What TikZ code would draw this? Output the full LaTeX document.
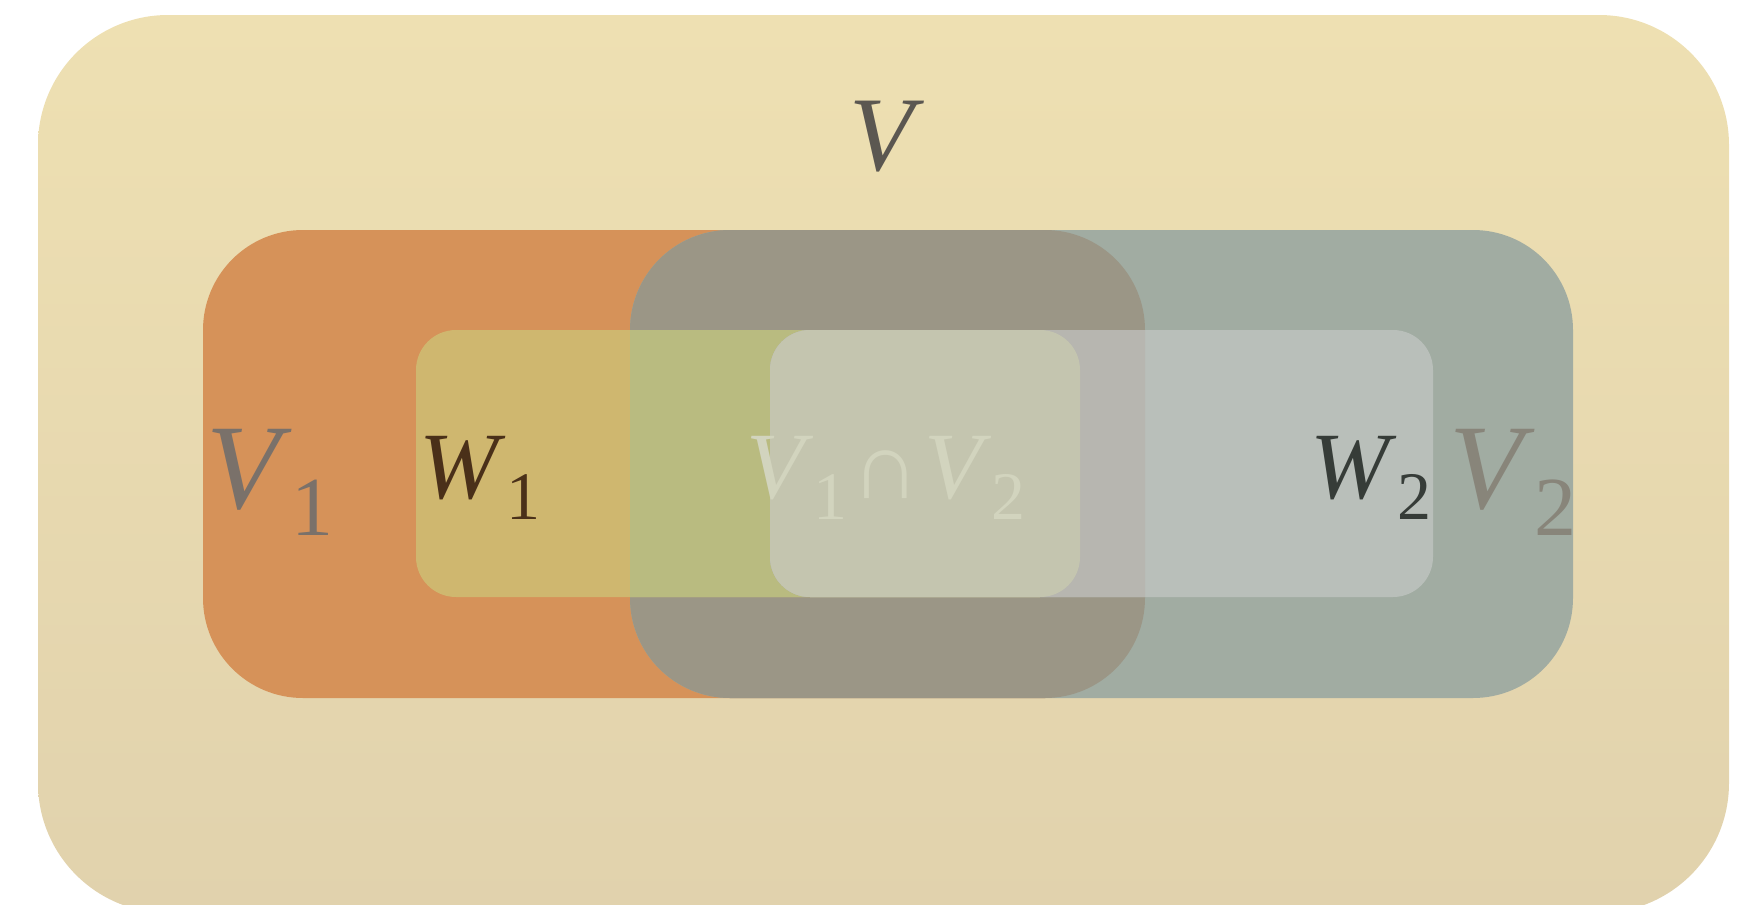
\documentclass[tikz,border=0pt]{standalone}
\usepackage{fontspec}
\setmainfont{Liberation Serif}

\definecolor{spacetop}{HTML}{EEE0B2}
\definecolor{spacebot}{HTML}{E1D2AD}
\definecolor{vone}{HTML}{D69259}
\definecolor{vtwo}{HTML}{A1ACA2}
\definecolor{vboth}{HTML}{9B9686}
\definecolor{wone}{HTML}{CFB76F}
\definecolor{wonevtwo}{HTML}{B9BB80}
\definecolor{wtwo}{HTML}{B9BFBA}
\definecolor{wtwovone}{HTML}{B7B6B0}
\definecolor{wboth}{HTML}{C4C5AF}

\newcommand{\sublbl}[4]{{\fontsize{#3}{#3}\selectfont\textit{#1}\raisebox{-0.23em}{\fontsize{#4}{#4}\selectfont #2}}}

\begin{document}
\begin{tikzpicture}[x=0.5pt,y=-0.5pt]
                        \useasboundingbox (0,0) rectangle (1742,905);
                        \shade[top color=spacetop,bottom color=spacebot,rounded corners=65pt] (38,15) rectangle (1729,913);

                        \fill[vone,rounded corners=50pt] (203,230) rectangle (1145,698);
                        \fill[vtwo,rounded corners=50pt] (630,230) rectangle (1573,698);
                        \begin{scope}
                            \clip[rounded corners=50pt] (203,230) rectangle (1145,698);
                            \fill[vboth,rounded corners=50pt] (630,230) rectangle (1573,698);
                        \end{scope}

                        \fill[wone,rounded corners=20pt] (416,330) rectangle (1080,597);
                        \begin{scope}
                            \clip[rounded corners=20pt] (416,330) rectangle (1080,597);
                            \fill[wonevtwo,rounded corners=50pt] (630,230) rectangle (1573,698);
                        \end{scope}
                        \fill[wtwo,rounded corners=20pt] (770,330) rectangle (1433,597);
                        \begin{scope}
                            \clip[rounded corners=20pt] (770,330) rectangle (1433,597);
                            \fill[wtwovone,rounded corners=50pt] (203,230) rectangle (1145,698);
                            \fill[wboth,rounded corners=20pt] (416,330) rectangle (1080,597);
                        \end{scope}

                        \node[inner sep=0,anchor=base,text={rgb,255:red,91;green,87;blue,81}] (space) at (887,170) {\fontsize{53}{53}\selectfont\textit{V}};
                        \node[inner sep=0,anchor=base,text={rgb,255:red,122;green,113;blue,106}] (vonelbl) at (270,508) {\sublbl{V}{1}{60.5}{42}};
                        \node[inner sep=0,anchor=base,text={rgb,255:red,74;green,48;blue,25}] (wonelbl) at (480,498) {\sublbl{W}{1}{47.5}{34}};
                        \node[inner sep=0,anchor=base,text={rgb,255:red,210;green,212;blue,190}] (caplbl) at (886,498) {\sublbl{V}{1}{47.5}{34}\hspace{0.22em}{\fontsize{47.5}{48}\selectfont ∩}\hspace{0.22em}\sublbl{V}{2}{47.5}{34}};
                        \node[inner sep=0,anchor=base,text={rgb,255:red,54;green,60;blue,56}] (wtwolbl) at (1371,498) {\sublbl{W}{2}{47.5}{34}};
                        \node[inner sep=0,anchor=base,text={rgb,255:red,136;green,133;blue,122}] (vtwolbl) at (1513,508) {\sublbl{V}{2}{60.5}{42}};
                    \end{tikzpicture}
\end{document}
